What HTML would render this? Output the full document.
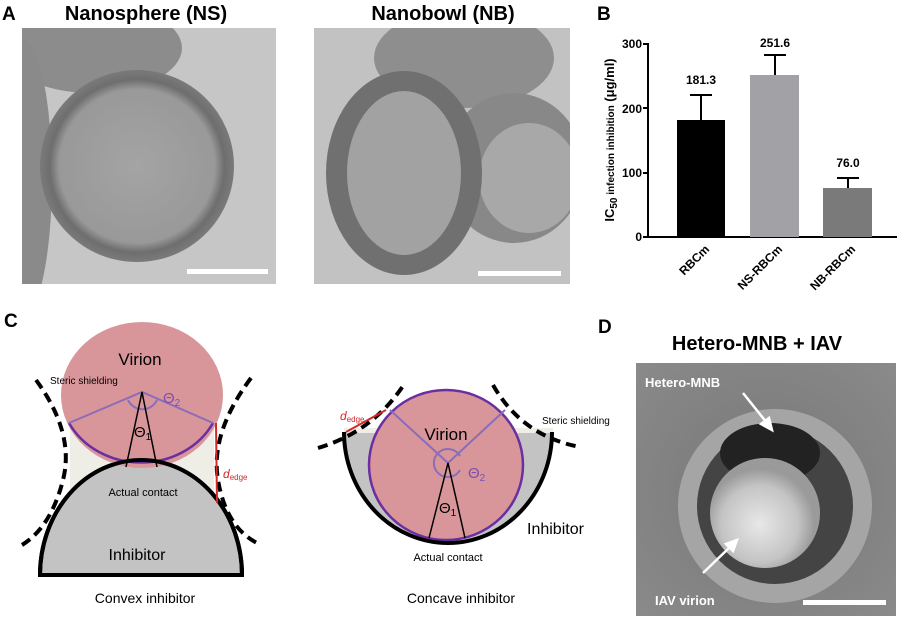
<!DOCTYPE html>
<html><head><meta charset="utf-8"><style>
html,body{margin:0;padding:0;background:#fff;width:900px;height:619px;overflow:hidden}
svg{display:block}
text{font-family:"Liberation Sans",Arial,sans-serif}
</style></head><body>
<svg width="900" height="619" viewBox="0 0 900 619" xmlns="http://www.w3.org/2000/svg">
<defs>
<radialGradient id="ns" cx="0.5" cy="0.5" r="0.5">
<stop offset="0" stop-color="#a4a4a4"/><stop offset="0.8" stop-color="#999"/><stop offset="0.9" stop-color="#6e6e6e"/><stop offset="1" stop-color="#7a7a7a"/></radialGradient>
<radialGradient id="vir" cx="0.45" cy="0.6" r="0.5">
<stop offset="0" stop-color="#e8e8e8"/><stop offset="0.7" stop-color="#c4c4c4"/><stop offset="1" stop-color="#9a9a9a"/></radialGradient>
<radialGradient id="dbg" cx="0.5" cy="0.5" r="0.7">
<stop offset="0" stop-color="#777"/><stop offset="1" stop-color="#8a8a8a"/></radialGradient>
</defs>

<!-- Panel A -->
<text x="2" y="20" font-size="19" font-weight="bold">A</text>
<text x="146" y="20" font-size="20" font-weight="bold" text-anchor="middle">Nanosphere (NS)</text>
<text x="443" y="20" font-size="20" font-weight="bold" text-anchor="middle">Nanobowl (NB)</text>
<svg x="22" y="28" width="254" height="256">
<rect width="254" height="256" fill="#c6c6c6"/>
<ellipse cx="70" cy="20" rx="90" ry="45" fill="#8c8c8c"/>
<ellipse cx="0" cy="150" rx="30" ry="140" fill="#8a8a8a"/>
<ellipse cx="115" cy="138" rx="97" ry="96" fill="url(#ns)"/>
<rect x="165" y="241" width="81" height="5" fill="#fff"/>
</svg>
<svg x="314" y="28" width="256" height="256">
<rect width="256" height="256" fill="#c2c2c2"/>
<ellipse cx="150" cy="30" rx="90" ry="50" fill="#8e8e8e"/>
<ellipse cx="200" cy="140" rx="70" ry="75" fill="#888"/>
<ellipse cx="215" cy="150" rx="50" ry="55" fill="#a8a8a8"/>
<ellipse cx="90" cy="145" rx="78" ry="102" fill="#707070"/>
<ellipse cx="90" cy="145" rx="57" ry="82" fill="#a2a2a2"/>
<rect x="164" y="243" width="83" height="5" fill="#fff"/>
</svg>

<!-- Panel B -->
<text x="597" y="20" font-size="19" font-weight="bold">B</text>
<g font-size="12" font-weight="bold" text-anchor="end">
<text x="642" y="241">0</text><text x="642" y="177">100</text><text x="642" y="113">200</text><text x="642" y="48">300</text>
</g>
<g stroke="#000" stroke-width="2">
<line x1="648" y1="43" x2="648" y2="238"/>
<line x1="647" y1="237" x2="897" y2="237"/>
<line x1="643" y1="237" x2="648" y2="237"/><line x1="643" y1="173" x2="648" y2="173"/><line x1="643" y1="108" x2="648" y2="108"/><line x1="643" y1="44" x2="648" y2="44"/>
</g>
<rect x="677" y="120" width="48" height="117" fill="#000"/>
<rect x="750" y="75" width="49" height="162" fill="#a2a2a6"/>
<rect x="823" y="188" width="49" height="49" fill="#7a7a7a"/>
<g stroke="#000" stroke-width="2" fill="none">
<path d="M701 120V95M690 95H712"/>
<path d="M775 75V55M764 55H786"/>
<path d="M848 188V178M837 178H859"/>
</g>
<g font-size="12" font-weight="bold" text-anchor="middle">
<text x="701" y="84">181.3</text><text x="775" y="47">251.6</text><text x="848" y="167">76.0</text>
</g>
<g font-size="12" font-weight="bold" text-anchor="end">
<text transform="translate(710,250) rotate(-45)">RBCm</text>
<text transform="translate(783,250) rotate(-45)">NS-RBCm</text>
<text transform="translate(856,250) rotate(-45)">NB-RBCm</text>
</g>
<text transform="translate(614,140) rotate(-90)" font-size="13" font-weight="bold" text-anchor="middle">IC<tspan font-size="10" dy="3">50</tspan><tspan font-size="10" dy="-3"> infection inhibition</tspan> (μg/ml)</text>

<!-- Panel C -->
<text x="4" y="327" font-size="19" font-weight="bold">C</text>
<!-- convex -->
<rect x="70" y="423" width="144" height="80" fill="#efeee6"/>
<path d="M40 575 A101 115 0 0 1 242 575 Z" fill="#c3c3c3" stroke="#000" stroke-width="4"/>
<ellipse cx="142" cy="395" rx="81" ry="73" fill="#d9969a"/>
<path d="M69 423 A81 73 0 0 0 213 423" fill="none" stroke="#6a2fa0" stroke-width="2.5"/>
<path d="M40 575 A101 115 0 0 1 242 575" fill="none" stroke="#000" stroke-width="4"/>
<g fill="none" stroke="#000" stroke-width="4" stroke-dasharray="10 6">
<path d="M36 380 Q75 433 63 480 T22 545"/>
<path d="M251 378 Q210 433 218 480 T257 543"/>
</g>
<g stroke="#8a6cb8" stroke-width="2" fill="none">
<path d="M69 423 L142 392 L213 423"/>
<path d="M128 400 A16 16 0 0 0 157 400"/>
</g>
<path d="M126 467 L142 392 L157 467" fill="none" stroke="#000" stroke-width="1.5"/>
<line x1="216" y1="423" x2="217" y2="503" stroke="#d02a2a" stroke-width="2"/>
<text x="223" y="478" font-size="12" fill="#d02a2a" font-style="italic">d<tspan font-size="8" font-style="normal" dy="2">edge</tspan></text>
<text x="140" y="365" font-size="17" text-anchor="middle" font-family="DejaVu Sans,sans-serif">Virion</text>
<text x="50" y="384" font-size="10">Steric shielding</text>
<text x="163" y="403" font-size="15" fill="#7b4eb0">Θ<tspan font-size="10" dy="3">2</tspan></text>
<text x="134" y="437" font-size="15">Θ<tspan font-size="10" dy="3">1</tspan></text>
<text x="143" y="496" font-size="11" text-anchor="middle">Actual contact</text>
<text x="137" y="560" font-size="16" text-anchor="middle">Inhibitor</text>
<text x="145" y="603" font-size="14" text-anchor="middle">Convex inhibitor</text>
<!-- concave -->
<path d="M344 432 A104 111 0 0 0 552 432 Z" fill="#c3c3c3"/>
<rect x="344" y="428" width="209" height="5" fill="#eeeee6"/>
<ellipse cx="446" cy="465" rx="77" ry="75" fill="#d9969a" stroke="#6a2fa0" stroke-width="2.5"/>
<path d="M344 432 A104 111 0 0 0 552 432" fill="none" stroke="#000" stroke-width="4"/>
<g fill="none" stroke="#000" stroke-width="4" stroke-dasharray="10 6">
<path d="M318 448 Q372 432 403 386"/>
<path d="M493 385 Q522 436 580 447"/>
</g>
<g stroke="#8a6cb8" stroke-width="2" fill="none">
<path d="M390 410 L448 463 L505 410"/>
<path d="M460 470 A14 14 0 1 1 460 456"/>
</g>
<path d="M429 538 L448 463 L465 538" fill="none" stroke="#000" stroke-width="1.5"/>
<line x1="346" y1="432" x2="386" y2="410" stroke="#d02a2a" stroke-width="2"/>
<text x="340" y="420" font-size="12" fill="#d02a2a" font-style="italic">d<tspan font-size="8" font-style="normal" dy="2">edge</tspan></text>
<text x="446" y="440" font-size="17" text-anchor="middle" font-family="DejaVu Sans,sans-serif">Virion</text>
<text x="468" y="478" font-size="15" fill="#7b4eb0">Θ<tspan font-size="10" dy="3">2</tspan></text>
<text x="439" y="513" font-size="15">Θ<tspan font-size="10" dy="3">1</tspan></text>
<text x="542" y="424" font-size="10">Steric shielding</text>
<text x="527" y="534" font-size="16">Inhibitor</text>
<text x="448" y="561" font-size="11" text-anchor="middle">Actual contact</text>
<text x="461" y="603" font-size="14" text-anchor="middle">Concave inhibitor</text>

<!-- Panel D -->
<text x="598" y="333" font-size="19" font-weight="bold">D</text>
<text x="757" y="350" font-size="20" font-weight="bold" text-anchor="middle">Hetero-MNB + IAV</text>
<svg x="636" y="363" width="260" height="253">
<rect width="260" height="253" fill="url(#dbg)"/>
<circle cx="139" cy="143" r="97" fill="#a5a5a5"/>
<circle cx="139" cy="143" r="78" fill="#444"/>
<ellipse cx="134" cy="90" rx="50" ry="30" fill="#222"/>
<circle cx="129" cy="150" r="55" fill="url(#vir)"/>
<rect x="167" y="237" width="83" height="5" fill="#fff"/>
</svg>
<text x="645" y="387" font-size="13" font-weight="bold" fill="#fff">Hetero-MNB</text>
<text x="655" y="605" font-size="13" font-weight="bold" fill="#fff">IAV virion</text>
<g stroke="#fff" stroke-width="2.5" fill="#fff">
<line x1="743" y1="393" x2="767" y2="423"/><path d="M772 430 L761 424 L769 418Z"/>
<line x1="703" y1="573" x2="730" y2="547"/><path d="M737 540 L733 551 L726 544Z"/>
</g>
</svg>
</body></html>
